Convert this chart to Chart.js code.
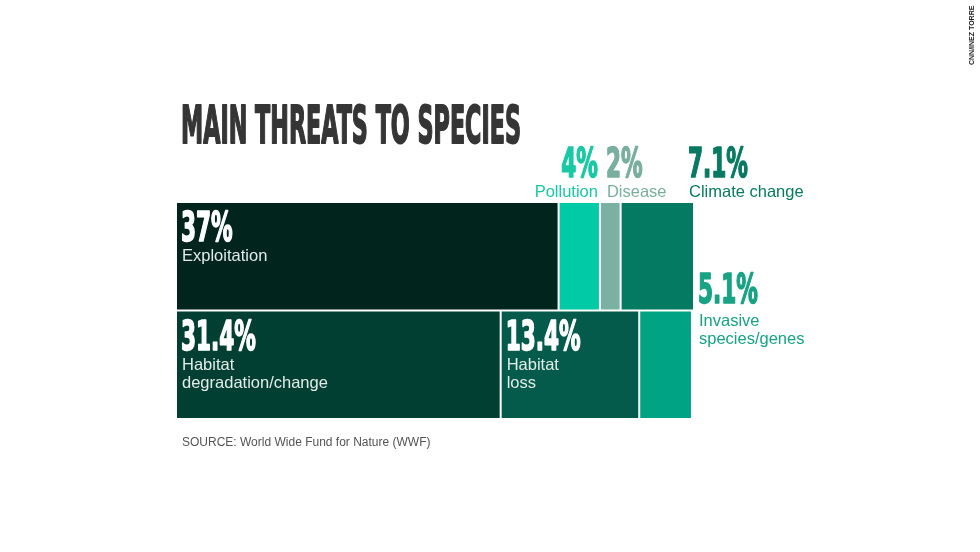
<!DOCTYPE html>
<html>
<head>
<meta charset="utf-8">
<title>Main threats to species</title>
<script src="https://cdn.jsdelivr.net/npm/chart.js@4/dist/chart.umd.min.js"></script>
<style>
  html, body { margin: 0; padding: 0; background: #ffffff; }
  #wrap { width: 980px; height: 552px; }
</style>
</head>
<body>
<div id="wrap"><canvas id="threatChart" width="980" height="552"></canvas></div>
<script>
// data
const rows = ['Top row', 'Bottom row'];
const threats = ['Exploitation', 'Pollution', 'Disease', 'Climate change',
                 'Habitat degradation/change', 'Habitat loss', 'Invasive species/genes'];
const nameLines = [['Exploitation'], ['Pollution'], ['Disease'], ['Climate change'],
                   ['Habitat', 'degradation/change'], ['Habitat', 'loss'], ['Invasive', 'species/genes']];
const shares = [37, 4, 2, 7.1, 31.4, 13.4, 5.1];
const rowOf = [0, 0, 0, 0, 1, 1, 1];

// look
const fills = ['#01241d', '#00cba6', '#7bb1a2', '#047a62', '#023f33', '#045b4b', '#00a383'];
const textColors = ['#ffffff', '#19c9a4', '#7aaf9f', '#087a61', '#ffffff', '#ffffff', '#17a384'];
const placement = ['inside', 'aboveRight', 'aboveLeft', 'aboveEnd', 'inside', 'inside', 'outside'];

const NARROW = "'Liberation Sans Narrow', 'DejaVu Sans Condensed', 'Liberation Sans', sans-serif";
const BODY = "'Liberation Sans', Arial, sans-serif";

// condensed heavy text: squeeze horizontally, thicken with a stroke
function drawScaled(ctx, text, x, y, sx, align, weight) {
    ctx.save();
    ctx.translate(x, y);
    ctx.scale(sx, 1);
    ctx.textAlign = align || 'left';
    ctx.fillText(text, 0, 0);
    if (weight) {
        ctx.strokeStyle = ctx.fillStyle;
        ctx.lineWidth = weight;
        ctx.lineJoin = 'round';
        ctx.strokeText(text, 0, 0);
    }
    ctx.restore();
}

const treeLabels = {
    id: 'treeLabels',
    afterDatasetsDraw(chart) {
        const ctx = chart.ctx;
        const area = chart.chartArea;
        ctx.save();
        ctx.textBaseline = 'alphabetic';
        chart.data.datasets.forEach((ds, i) => {
            const el = chart.getDatasetMeta(i).data[rowOf[i]];
            const p = el.getProps(['x', 'y', 'base', 'height'], true);
            const left = Math.min(p.x, p.base);
            const right = Math.min(Math.max(p.x, p.base), area.right);
            const top = p.y - p.height / 2;
            const pct = shares[i] + '%';
            const lines = nameLines[i];
            let ax, align = 'left', pctY, nameY;
            switch (placement[i]) {
                case 'inside': ax = left + 5; pctY = top + 39; nameY = top + 59; break;
                case 'aboveRight': ax = right - 2; align = 'right'; pctY = top - 25; nameY = top - 5; break;
                case 'aboveLeft': ax = left + 6; pctY = top - 25; nameY = top - 5; break;
                case 'aboveEnd': ax = right - 5; pctY = top - 25; nameY = top - 5; break;
                default: ax = right + 6; pctY = top - 8; nameY = top + 15;
            }
            ctx.fillStyle = textColors[i];
            ctx.font = 'bold 40px ' + NARROW;
            drawScaled(ctx, pct, ax, pctY, 0.6, align, 1.6);
            ctx.font = '16.5px ' + BODY;
            ctx.fillStyle = placement[i] === 'inside' ? '#e3ebe8' : textColors[i];
            ctx.textAlign = align;
            lines.forEach((ln, k) => ctx.fillText(ln, ax + (align === 'left' ? 1 : 0), nameY + k * 18));
        });
        ctx.restore();
    },
    afterDraw(chart) {
        const ctx = chart.ctx;
        ctx.save();
        // title, squeezed to the width it has in the picture
        ctx.fillStyle = '#353535';
        ctx.font = 'bold 51px ' + NARROW;
        const title = 'MAIN THREATS TO SPECIES';
        const w = ctx.measureText(title).width;
        drawScaled(ctx, title, 181, 143, 340 / w, 'left', 1.8);
        // source line
        ctx.fillStyle = '#555555';
        ctx.font = '12px ' + BODY;
        ctx.textAlign = 'left';
        ctx.fillText('SOURCE: World Wide Fund for Nature (WWF)', 182, 446);
        // credit
        ctx.translate(974, 65);
        ctx.rotate(-Math.PI / 2);
        ctx.fillStyle = '#222222';
        ctx.font = 'bold 7px ' + BODY;
        ctx.fillText('CNN/INEZ TORRE', 0, 0);
        ctx.restore();
    }
};

const datasets = threats.map((name, i) => ({
    label: name,
    data: rows.map((r, k) => (k === rowOf[i] ? shares[i] : null)),
    backgroundColor: fills[i],
    borderColor: '#ffffff',
    borderWidth: 1,
    borderSkipped: false
}));

new Chart(document.getElementById('threatChart'), {
    type: 'bar',
    data: { labels: rows, datasets: datasets },
    options: {
        indexAxis: 'y',
        responsive: false,
        animation: false,
        events: [],
        layout: { padding: { left: 176, right: 287, top: 202, bottom: 133 } },
        datasets: { bar: { barPercentage: 1, categoryPercentage: 1, inflateAmount: 0 } },
        scales: {
            x: { stacked: true, min: 0, max: 50, display: false },
            y: { stacked: true, display: false }
        },
        plugins: {
            legend: { display: false },
            tooltip: { enabled: false },
            title: { display: false }
        }
    },
    plugins: [treeLabels]
});
</script>
</body>
</html>
